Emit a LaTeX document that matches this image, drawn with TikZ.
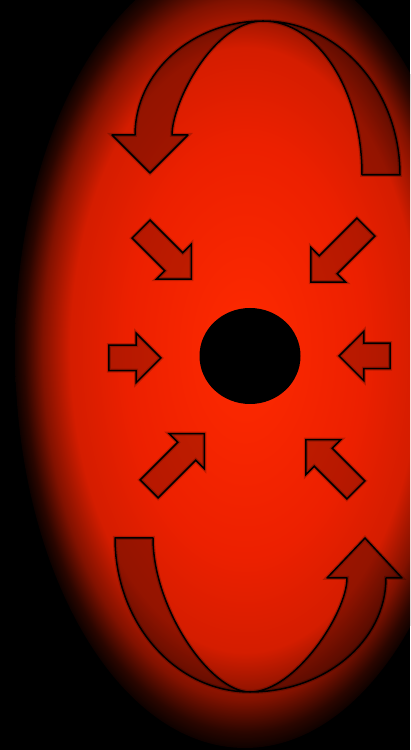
\documentclass[tikz,border=0pt]{standalone}
\usetikzlibrary{shapes.geometric, shapes.arrows}

\definecolor{glowcore}{RGB}{255,42,0}
\definecolor{glowmid}{RGB}{236,32,0}
\pgfdeclareradialshading{glow}{\pgfpoint{0bp}{0bp}}{%
  color(0bp)=(glowcore); color(13bp)=(glowmid); color(19bp)=(glowmid!90!black);
  color(22bp)=(glowmid!55!black); color(24bp)=(glowmid!18!black);
  color(25.5bp)=(black); color(50bp)=(black)}

\begin{document}
\begin{tikzpicture}[
    x=1pt, y=1pt,
    hole/.style={
        ellipse,
        fill=black,
        inner sep=0pt,
        minimum width=101pt,
        minimum height=96pt
    },
    pull/.style={
        single arrow,
        single arrow head extend=12pt,
        minimum width=48pt,
        inner xsep=0pt,
        inner ysep=12pt,
        anchor=tip,
        draw=black,
        line width=1.5pt,
        fill=black,
        fill opacity=0.22,
        preaction={draw=black, draw opacity=0.2, line width=4pt}
    },
    swirl/.style={
        draw=black,
        line width=1.5pt,
        line join=round,
        fill=black,
        fill opacity=0.3,
        preaction={draw=black, draw opacity=0.2, line width=4pt}
    }
    ]

    % Background
    \useasboundingbox (0,0) rectangle (410,750);
    \begin{scope}
        \clip (0,0) rectangle (410,750);
        \fill[black] (0,0) rectangle (410,750);
        \shade[shading=glow] (245,400) ellipse[x radius=230, y radius=398];
    \end{scope}

    % Nodes
    \node (hole) [hole] at (250,394) {};
    \node (inleft) [pull, minimum height=52pt] at (162,392) {};
    \node (inright) [pull, minimum height=51pt, rotate=180] at (338,394) {};
    \node (intopleft) [pull, minimum height=71pt, rotate=-45] at (192,470) {};
    \node (intopright) [pull, minimum height=78pt, rotate=-135] at (310,467) {};
    \node (inbotleft) [pull, minimum height=78pt, rotate=45] at (205,317) {};
    \node (inbotright) [pull, minimum height=71pt, rotate=135] at (305,311) {};

    % Top swirl
    \draw[swirl] (263,729) arc[start angle=90, end angle=0, x radius=137, y radius=154]
        -- (362,575) arc[start angle=0, end angle=90, x radius=99, y radius=154] -- cycle;
    \draw[swirl] (263,729) arc[start angle=90, end angle=180, x radius=128, y radius=114]
        -- (112,615) -- (150,577) -- (188,615) -- (172,615)
        .. controls (172,647) and (213,729) .. (263,729) -- cycle;

    % Bottom swirl
    \draw[swirl] (115,212) arc[start angle=180, end angle=270, x radius=135, y radius=154]
        .. controls (210,58) and (153,142) .. (153,212) -- cycle;
    \draw[swirl] (250,58) arc[start angle=270, end angle=360, x radius=136, y radius=114]
        -- (402,172) -- (365,212) -- (327,172) -- (347,172)
        .. controls (347,137) and (295,58) .. (250,58) -- cycle;

\end{tikzpicture}
\end{document}
